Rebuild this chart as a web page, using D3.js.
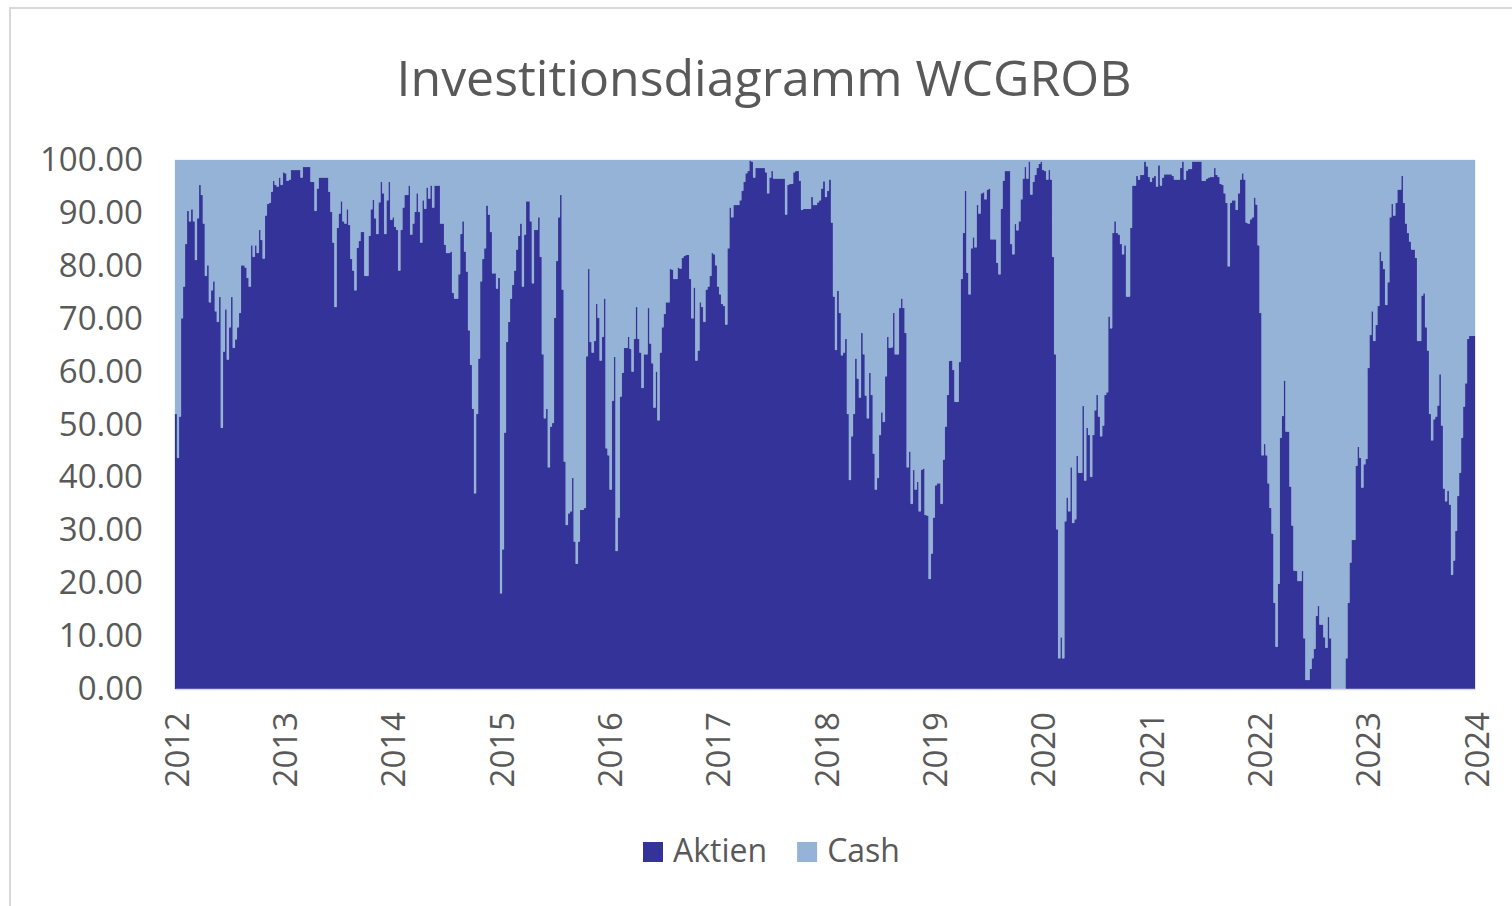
<!DOCTYPE html>
<html>
<head>
<meta charset="utf-8">
<script src="https://cdn.jsdelivr.net/npm/d3@7"></script>
<style>
  body { margin: 0; background: #fff; }
  text { font-family: "Open Sans", "Noto Sans", sans-serif; fill: #595959; }
</style>
</head>
<body>
<div id="chart"></div>
<script>
const title = "Investitionsdiagramm WCGROB";
const seriesNames = ["Aktien", "Cash"];
const seriesColors = ["#333399", "#95b3d7"];
const yearTicks = [2012, 2013, 2014, 2015, 2016, 2017, 2018, 2019, 2020, 2021, 2022, 2023, 2024];
const valueTicks = [0, 10, 20, 30, 40, 50, 60, 70, 80, 90, 100];

// Aktien share (%) at roughly weekly steps.
const aktien_2012_2013 = [
  52, 43.7, 51.5, 70.1, 76.1, 84.1, 90.4, 88.4, 90.7, 88.4,
  81.1, 89, 95.3, 93.4, 88, 78.1, 80.1, 73.1, 75.4, 77.1,
  71.4, 69.4, 74.1, 49.4, 63.8, 71.8, 62.3, 68.4, 74.1, 64.5,
  66.1, 68.4, 71.1, 80.1, 80.1, 79.7, 77.7, 76.1, 83.9, 81.7,
  83.9, 82.4, 86.8, 84.9, 81.4, 89.5, 91.7, 91.9, 94, 96.1,
  95.3, 95, 96.7, 95.3, 97.7, 97.5, 96.1, 96.3, 98.1, 98.1,
  98.1, 98.1, 98.1, 96.7, 98.7, 98.7, 98.7, 98.7, 95.9, 95.9,
  90.4, 94.6, 96.7, 96.7, 96.7, 96.7, 96.7, 94, 90.2, 84.4,
  72.2, 87.2, 89.9, 92.2, 88.4, 88, 90.7, 87.7, 81.3, 79.1,
  75.4, 83.4, 84.7, 86.4, 86.4, 78.1, 78.1, 85.7, 90.7, 92.5,
  89, 86
];
const aktien_2013_2015 = [
  92, 95.9, 93.7, 86, 92.4, 95.9, 88.7, 89.2, 87.4, 86.8,
  79.1, 86.8, 91, 93.4, 93.4, 95.2, 85.9, 88, 90.2, 93.7,
  90.2, 84.4, 92.4, 90.8, 94.8, 92.7, 95.2, 91, 95.2, 95.2,
  95.2, 88, 88, 84, 82.4, 82.4, 82.7, 74.9, 73.8, 73.8,
  78.4, 86, 88.4, 82.7, 78.9, 67.8, 61.3, 53, 37, 52,
  62.5, 77.1, 81.3, 83.3, 91.4, 89.7, 86.4, 78.6, 78.6, 75.7,
  77.7, 18.1, 26.4, 48.5, 65.6, 69.4, 73.8, 76.4, 79.1, 83.1,
  85.7, 88, 76.1, 85.9, 92.2, 92.2, 88.4, 76.7, 86.8, 86.8,
  89.2, 81.7, 63.3, 51.2, 53, 41.9, 49.6, 50.3, 70.2, 80.9,
  89.2, 93.4, 75.5, 43, 31, 33.2, 33.6, 39.9, 27.9, 23.7,
  27.9, 33.9, 33.9, 34.2, 62.9, 79.4, 65.6, 63.6
];
const aktien_2015_2017 = [
  65.8, 72.8, 70.2, 62.1, 66.6, 73.8, 45.5, 44.2, 37.7, 54.5,
  62.8, 26.1, 32.4, 55.3, 59.8, 64.5, 64.5, 66.6, 64.3, 60,
  66.2, 72.2, 66.2, 63.6, 56.9, 63.3, 63.3, 72, 65.3, 61.6,
  53.2, 60, 50.8, 63.6, 68.4, 70.9, 73.1, 73.1, 79.4, 79.3,
  77.5, 77.5, 79.7, 79.5, 81.5, 81.9, 82.1, 82.1, 77.5, 70.1,
  75.9, 62.1, 64, 73.1, 72.2, 69.4, 75.5, 76.1, 78.1, 82.4,
  82.2, 80.1, 76.1, 74.6, 72.8, 72.4, 68.9, 83.3, 91, 89.2,
  91.5, 91.5, 91.5, 92.4, 94.2, 95.9, 97.5, 97.9, 99.9, 99.7,
  96.7, 98.5, 98.5, 98.5, 98.5, 98.5, 97.7, 93.7, 96.7, 97.9,
  96.5, 96.5, 96.5, 96.5, 96.5, 96.5, 89.7, 95.3, 95.5, 95.5,
  97.7, 97.9, 97.9, 96.1, 90.6, 90.8, 90.8, 90.8
];
const aktien_2017_2019 = [
  90.8, 93, 91.5, 91.5, 92, 92.4, 94.6, 96, 93, 94.2,
  96.3, 88.2, 74.2, 64.1, 75.3, 71.1, 63.1, 63.6, 66.2, 52,
  39.5, 47.8, 52, 62.5, 58.7, 55.1, 67.3, 63.3, 55.5, 51.2,
  59.8, 55.6, 44.5, 37.7, 39.9, 48, 52.3, 50.5, 59.1, 66.6,
  64.5, 64.6, 71.1, 63.3, 63.3, 72, 73.8, 72, 67.3, 41.9,
  44.9, 35, 41.4, 37.7, 39.2, 33.6, 41.5, 41.7, 32.9, 32.8,
  20.8, 25.6, 32.4, 38.5, 38.9, 38.9, 35, 43.4, 49.6, 55.6,
  62, 62.1, 60.3, 54.3, 54.3, 61.8, 77.5, 86.2, 94.2, 78.7,
  74.6, 83.3, 85.4, 83.5, 91.5, 89.9, 93.7, 93.9, 92.6, 94.4,
  94.6, 85, 85, 85, 80.6, 78.4, 90.8, 96.1, 97.9, 97.9,
  97.9, 84.1, 82.2, 87.9, 86.7, 88.4, 92.6, 96.5
];
const aktien_2019_2021 = [
  98.7, 96.5, 99.7, 93.5, 95.9, 97.2, 98.5, 99.3, 99.7, 98.1,
  97.9, 96.3, 98.1, 96.3, 81.7, 63.3, 30.2, 5.8, 9.8, 5.8,
  31.7, 36.2, 33.6, 41.9, 31.4, 32.1, 44.1, 40.9, 40.9, 53.5,
  39.4, 49.4, 48, 40.1, 48, 52.7, 55.6, 51.5, 47.8, 49.8,
  55.6, 56.1, 70.4, 68.2, 86.2, 88.4, 86.2, 85.9, 84.1, 82.2,
  83.9, 74.2, 74.2, 87.2, 95.2, 95.2, 97, 96.3, 97.2, 97.2,
  99.7, 98.8, 96.8, 95.9, 96.7, 97, 95, 99, 95.2, 96.7,
  97.3, 97.3, 97.3, 97.3, 97, 96.3, 96.3, 96.3, 98.5, 99.7,
  96.3, 98, 98.3, 98.3, 99.7, 99.7, 99.7, 99.7, 99.7, 96.1,
  96.1, 96.5, 96.7, 96.8, 96.8, 98.5, 97.2, 96.8, 95.5, 95.3,
  93.7, 91.9, 79.9, 91.9, 92.4, 92.4, 90.6, 93.7
];
const aktien_2021_2023 = [
  96.3, 97.5, 96.3, 88.2, 88, 88.8, 89.2, 92.9, 91.6, 83.9,
  71.1, 44.2, 46.3, 44.2, 38.9, 34.2, 29.4, 16.3, 8, 19.9,
  47.5, 51.6, 58.3, 48.7, 48.7, 38.3, 30.9, 22.4, 22.3, 20.4,
  20.4, 22.3, 9.6, 1.7, 1.7, 3.8, 5.8, 7.6, 13.8, 15.7,
  12.2, 12.2, 9.8, 7.8, 13.6, 9.6, 0, 0, 0, 0,
  0, 0, 0, 5.8, 16.3, 23.9, 28.2, 28.2, 42.2, 45.8,
  43.7, 38.1, 42.5, 43.5, 60.7, 66.9, 71.4, 65.8, 68.8, 72.4,
  82.7, 80.9, 79.4, 72.6, 76.9, 89.2, 91.7, 89.5, 91.9, 94.4,
  94.4, 97, 91.9, 88, 86.2, 84.6, 83.1, 83.1, 81.5, 65.8,
  65.8, 74.4, 74.8, 68.4, 64, 52, 47, 51, 51.5, 53.6,
  59.5, 49.8, 37.9, 35.5, 37.5, 34.9, 21.6, 24.3, 29.9, 36.5,
  40.9, 47.5, 53.4, 57.8, 66.2, 66.8, 66.8, 66.8
];

const startYear = 2012, endYear = 2024;
const aktien = [].concat(aktien_2012_2013, aktien_2013_2015, aktien_2015_2017,
                         aktien_2017_2019, aktien_2019_2021, aktien_2021_2023);
const cash = aktien.map(v => 100 - v);

const width = 1512, height = 906;
const plot = {left: 175, right: 1475, top: 160, bottom: 689};

const svg = d3.select("#chart").append("svg")
    .attr("width", width)
    .attr("height", height)
    .attr("viewBox", [0, 0, width, height]);

// chart frame
svg.append("rect")
    .attr("x", 10).attr("y", 8)
    .attr("width", 1600).attr("height", 1000)
    .attr("fill", "#fff")
    .attr("stroke", "#d9d9d9")
    .attr("stroke-width", 2);

const n = aktien.length;
const rows = aktien.map((a, i) => ({
    t: startYear + (endYear - startYear) * i / n,
    Aktien: a,
    Cash: cash[i]
}));
// close the last step at the right edge
rows.push({t: endYear, Aktien: aktien[n - 1], Cash: cash[n - 1]});

const stacked = d3.stack().keys(seriesNames)(rows);

const x = d3.scaleLinear([startYear, endYear], [plot.left, plot.right]);
const y = d3.scaleLinear([0, 100], [plot.bottom, plot.top]);

const area = d3.area()
    .x(d => x(d.data.t))
    .y0(d => y(d[0]))
    .y1(d => y(d[1]))
    .curve(d3.curveStepAfter);

svg.append("g")
    .selectAll("path")
    .data(stacked)
    .join("path")
        .attr("fill", (d, i) => seriesColors[i])
        .attr("stroke", (d, i) => seriesColors[i])
        .attr("stroke-width", 0.3)
        .attr("d", area);

// y axis
const yAxis = svg.append("g")
    .attr("transform", `translate(${plot.left},0)`)
    .call(d3.axisLeft(y).tickValues(valueTicks).tickFormat(d3.format(".2f")).tickSize(0).tickPadding(32));
yAxis.select(".domain").remove();
yAxis.selectAll("text")
    .attr("font-size", 33)
    .attr("font-family", null)
    .attr("fill", null);

// x axis
const xAxis = svg.append("g")
    .attr("transform", `translate(0,${plot.bottom})`)
    .call(d3.axisBottom(x).tickValues(yearTicks).tickFormat(d3.format("d")).tickSize(0));
xAxis.select(".domain").attr("stroke", "#d9d9d9").attr("stroke-width", 1.5);
xAxis.selectAll("text")
    .attr("font-size", 33)
    .attr("font-family", null)
    .attr("fill", null)
    .attr("transform", "rotate(-90)")
    .attr("text-anchor", "end")
    .attr("x", -23)
    .attr("y", 0)
    .attr("dy", "0.4em");

// title
svg.append("text")
    .attr("x", 764)
    .attr("y", 96)
    .attr("text-anchor", "middle")
    .attr("font-size", 50)
    .text(title);

// legend
const legend = svg.append("g");
let lx = 643;
seriesNames.forEach((name, i) => {
    legend.append("rect")
        .attr("x", lx).attr("y", 842)
        .attr("width", 20).attr("height", 20)
        .attr("fill", seriesColors[i]);
    const t = legend.append("text")
        .attr("x", lx + 30)
        .attr("y", 862)
        .attr("font-size", 32)
        .text(name);
    lx += 30 + t.node().getComputedTextLength() + 30;
});
</script>
</body>
</html>
